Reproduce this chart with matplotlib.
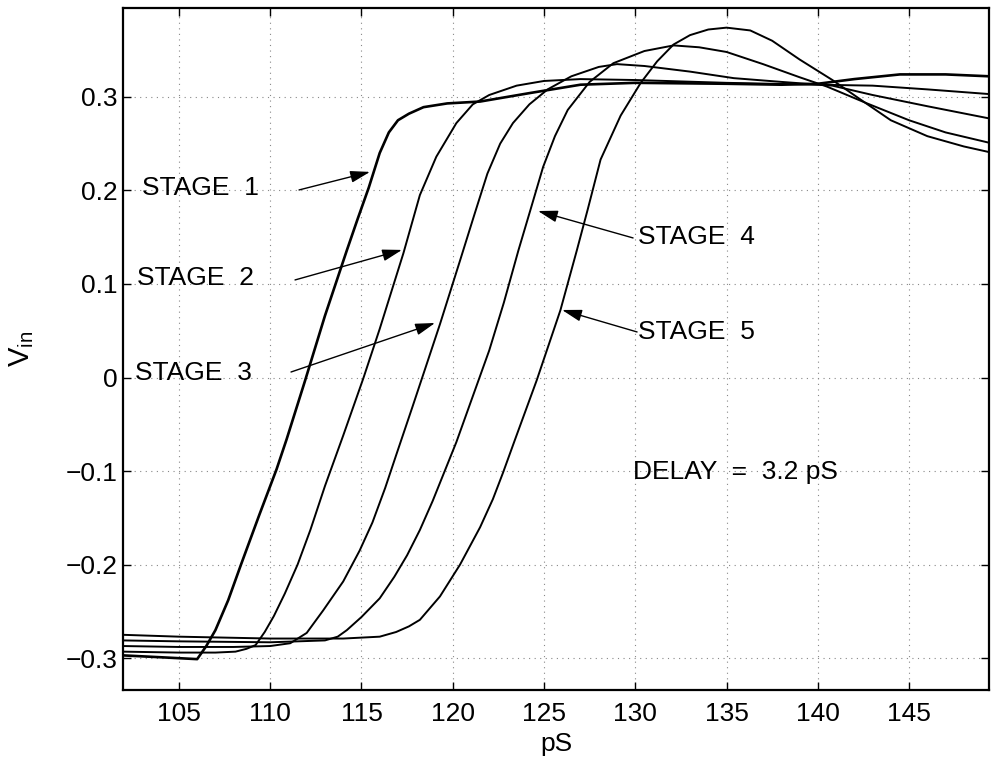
import numpy as np
import matplotlib
matplotlib.use("Agg")
import matplotlib.pyplot as plt

plt.rcParams["font.family"] = ["Liberation Sans", "DejaVu Sans"]

# ---------------------------------------------------------
# Data (x in pS, y = V_in)
# ---------------------------------------------------------
stage1_x = [101.93, 104.0, 106.0, 106.5, 107.0, 107.7, 108.4, 109.4, 110.35, 110.9,
            111.9, 113.0, 114.2, 114.8, 115.4, 116.0, 116.5, 117.0, 117.6, 118.4,
            119.7, 121.5, 124.2, 127.0, 130.0, 135.0, 138.0, 140.0, 142.0, 144.5,
            147.0, 149.38]
stage1_y = [-0.297, -0.299, -0.301, -0.287, -0.270, -0.238, -0.200, -0.147, -0.098, -0.066,
            -0.004, 0.066, 0.136, 0.170, 0.203, 0.240, 0.262, 0.275, 0.282, 0.289,
            0.293, 0.295, 0.304, 0.313, 0.315, 0.314, 0.313, 0.314, 0.319, 0.324,
            0.324, 0.322]

stage2_x = [101.93, 105.0, 107.0, 108.1, 108.7, 109.2, 109.7, 110.2, 110.8, 111.5,
            112.2, 113.0, 114.0, 115.1, 116.0, 117.3, 118.2, 119.1, 120.2, 121.1,
            122.0, 123.5, 125.0, 127.0, 130.0, 135.0, 140.0, 143.0, 146.0, 149.38]
stage2_y = [-0.293, -0.294, -0.294, -0.293, -0.290, -0.286, -0.272, -0.255, -0.231, -0.200,
            -0.163, -0.116, -0.062, -0.001, 0.052, 0.133, 0.195, 0.236, 0.272, 0.292,
            0.302, 0.312, 0.317, 0.319, 0.318, 0.315, 0.313, 0.312, 0.308, 0.303]

stage3_x = [101.93, 105.0, 108.0, 110.0, 111.1, 112.0, 112.9, 114.0, 114.9, 115.6,
            116.3, 116.9, 117.8, 118.5, 119.3, 120.4, 121.2, 121.9, 122.6, 123.3,
            124.2, 125.2, 126.5, 128.0, 129.0, 130.5, 133.0, 135.4, 138.0, 140.8,
            143.0, 146.0, 149.38]
stage3_y = [-0.287, -0.288, -0.288, -0.287, -0.284, -0.273, -0.249, -0.218, -0.185, -0.155,
            -0.118, -0.083, -0.031, 0.010, 0.057, 0.125, 0.175, 0.218, 0.250, 0.272,
            0.292, 0.308, 0.322, 0.332, 0.335, 0.333, 0.327, 0.320, 0.316, 0.312,
            0.302, 0.290, 0.277]

stage4_x = [101.93, 105.0, 110.0, 113.0, 113.7, 114.2, 115.0, 116.0, 116.8, 117.5,
            118.2, 118.9, 120.2, 121.1, 122.0, 122.8, 123.6, 124.3, 124.95, 125.6,
            126.3, 127.5, 128.8, 130.5, 132.1, 133.5, 135.0, 137.0, 139.0, 140.5,
            142.7, 145.0, 147.0, 149.38]
stage4_y = [-0.281, -0.282, -0.283, -0.281, -0.277, -0.270, -0.256, -0.236, -0.213, -0.190,
            -0.163, -0.132, -0.069, -0.020, 0.029, 0.080, 0.136, 0.182, 0.225, 0.258,
            0.286, 0.316, 0.336, 0.349, 0.355, 0.353, 0.348, 0.335, 0.321, 0.311,
            0.293, 0.275, 0.262, 0.251]

stage5_x = [101.93, 105.0, 110.0, 114.0, 116.0, 116.9, 117.6, 118.2, 119.3, 120.4,
            121.5, 122.2, 122.75, 123.4, 124.6, 125.9, 126.8, 127.4, 128.1, 129.2,
            130.3, 131.2, 132.1, 133.0, 134.0, 135.0, 136.3, 137.5, 139.0, 140.8,
            142.5, 144.0, 146.0, 148.0, 149.38]
stage5_y = [-0.275, -0.277, -0.279, -0.279, -0.277, -0.272, -0.266, -0.259, -0.234, -0.200,
            -0.160, -0.130, -0.102, -0.067, -0.003, 0.072, 0.136, 0.180, 0.233, 0.280,
            0.315, 0.338, 0.356, 0.366, 0.372, 0.374, 0.371, 0.360, 0.340, 0.318,
            0.295, 0.275, 0.258, 0.247, 0.241]

x_ticks = [105, 110, 115, 120, 125, 130, 135, 140, 145]
y_ticks = [-0.3, -0.2, -0.1, 0, 0.1, 0.2, 0.3]
y_tick_labels = ["\u22120.3", "\u22120.2", "\u22120.1", "0", "0.1", "0.2", "0.3"]

stage_labels = ["STAGE  1", "STAGE  2", "STAGE  3", "STAGE  4", "STAGE  5"]

# ---------------------------------------------------------
# Figure
# ---------------------------------------------------------
fig = plt.figure(figsize=(9.91, 7.61), dpi=100)
ax = fig.add_axes([0.124, 0.0933, 0.874, 0.8962])

curves = [(stage1_x, stage1_y), (stage2_x, stage2_y), (stage3_x, stage3_y),
          (stage4_x, stage4_y), (stage5_x, stage5_y)]
for i, (xs, ys) in enumerate(curves):
    ax.plot(xs, ys, color="black", lw=1.9 if i == 0 else 1.4,
            solid_joinstyle="round")

ax.set_xlim(101.93, 149.38)
ax.set_ylim(-0.334, 0.395)
ax.set_xticks(x_ticks)
ax.set_yticks(y_ticks)
ax.set_yticklabels(y_tick_labels)
ax.tick_params(direction="in", length=6, width=1, top=True, right=True,
               labelsize=19)
ax.tick_params(axis="x", pad=9)
ax.tick_params(axis="y", pad=4)
ax.grid(True, linestyle=(0, (1, 4)), color="#888888", lw=0.8)
for sp in ax.spines.values():
    sp.set_linewidth(1.6)

ax.set_xlabel("pS", fontsize=19, labelpad=4)
ax.set_ylabel(r"$\mathregular{V_{in}}$", fontsize=21)
ax.yaxis.set_label_coords(-0.100, 0.5)

# ---------------------------------------------------------
# Annotations (text position, arrow tail, arrow head)
# ---------------------------------------------------------
notes = [
    ((102.97, 0.203), (111.58, 0.2005), (115.47, 0.2198)),
    ((102.70, 0.106), (111.36, 0.1043), (117.22, 0.1364)),
    ((102.59, 0.005), (111.14, 0.0059), (119.03, 0.0583)),
    ((130.15, 0.150), (129.88, 0.1492), (124.67, 0.1780)),
    ((130.15, 0.049), (130.10, 0.0487), (125.99, 0.0722)),
]
arrow_kw = dict(arrowstyle="-|>,head_length=0.5,head_width=0.15",
                color="black", lw=1.0, mutation_scale=24,
                shrinkA=0, shrinkB=0)
for label, (txt, tail, head) in zip(stage_labels, notes):
    ax.text(txt[0], txt[1], label, fontsize=19, ha="left", va="center")
    ax.annotate("", xy=head, xytext=tail, arrowprops=arrow_kw)

ax.text(129.88, -0.101, "DELAY  =  3.2 pS", fontsize=19, ha="left", va="center")

fig.savefig("out.png", dpi=100)
